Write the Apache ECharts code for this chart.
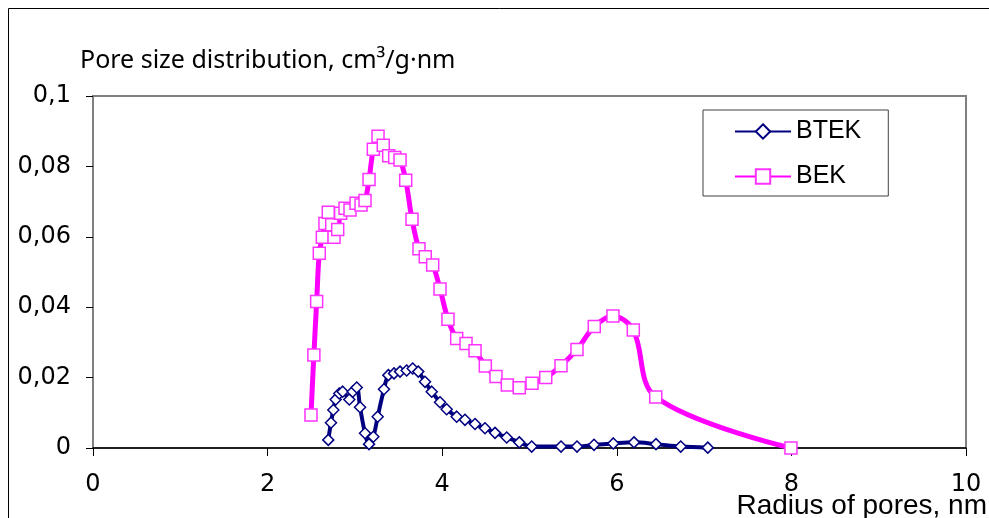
<!DOCTYPE html>
<html>
<head>
    <meta charset="utf-8">
    <title>Pore size distribution</title>
    <script src="https://cdn.jsdelivr.net/npm/echarts@6/dist/echarts.min.js"></script>
    <style>
        html, body { margin: 0; padding: 0; background: #fff; }
        #chartmain { width: 989px; height: 518px; }
    </style>
</head>
<body>
<div id="chartmain"></div>
<script type="text/javascript">
    // BTEK: radius (nm), distribution (cm3/g·nm)
    var btekX = [2.695, 2.726, 2.753, 2.780, 2.821, 2.860, 2.936, 2.975, 3.021, 3.059, 3.116, 3.162, 3.211, 3.261,
        3.333, 3.383, 3.448, 3.517, 3.593, 3.662, 3.726, 3.803, 3.880, 3.975, 4.051, 4.166, 4.261, 4.376,
        4.490, 4.605, 4.739, 4.883, 5.025, 5.361, 5.544, 5.739, 5.960, 6.197, 6.449, 6.732, 7.042];
    var btekY = [0.0023, 0.0072, 0.0108, 0.0138, 0.0155, 0.0160, 0.0138, 0.0160, 0.0172, 0.0116, 0.0042, 0.0011, 0.0032, 0.0089,
        0.0167, 0.0207, 0.0212, 0.0217, 0.0220, 0.0226, 0.0217, 0.0188, 0.0160, 0.0130, 0.0110, 0.0089, 0.0080, 0.0068,
        0.0056, 0.0043, 0.0030, 0.0016, 0.0004, 0.0004, 0.0004, 0.0009, 0.0013, 0.0016, 0.0011, 0.0004, 0.0001];

    // BEK
    var bekX = [2.497, 2.530, 2.562, 2.592, 2.627, 2.657, 2.695, 2.734, 2.761, 2.803, 2.837, 2.887, 2.944, 3.013,
        3.070, 3.116, 3.162, 3.211, 3.265, 3.325, 3.387, 3.456, 3.517, 3.582, 3.654, 3.734, 3.806, 3.891,
        3.975, 4.066, 4.166, 4.273, 4.376, 4.494, 4.616, 4.746, 4.883, 5.029, 5.186, 5.361, 5.544, 5.742,
        5.956, 6.189, 6.446, 7.995];
    var bekY = [0.0094, 0.0264, 0.0416, 0.0553, 0.0599, 0.0638, 0.0670, 0.0634, 0.0599, 0.0621, 0.0667, 0.0681, 0.0676, 0.0695,
        0.0690, 0.0703, 0.0763, 0.0849, 0.0886, 0.0860, 0.0830, 0.0825, 0.0818, 0.0761, 0.0650, 0.0566, 0.0543, 0.0520,
        0.0452, 0.0366, 0.0311, 0.0297, 0.0276, 0.0233, 0.0203, 0.0179, 0.0171, 0.0184, 0.0200, 0.0234, 0.0280, 0.0345,
        0.0375, 0.0335, 0.0145, 0.0000];

    var xTicks = {min: 0, max: 10, step: 2};
    var yTicks = {min: 0, max: 0.1, step: 0.02};

    function pairs(xs, ys) {
        var out = [];
        for (var i = 0; i < xs.length; i++) {
            out.push([xs[i], ys[i]]);
        }
        return out;
    }

    var option = {
        animation: false,
        backgroundColor: '#fff',
        textStyle: {fontFamily: 'Noto Sans'},
        grid: {
            left: 93, right: 23, top: 96, bottom: 70,
            show: true, borderColor: '#808080', borderWidth: 2
        },
        graphic: [
            {
                type: 'rect', silent: true, z: -1,
                shape: {x: 8.5, y: 8.5, width: 1100, height: 700},
                style: {fill: 'none', stroke: '#000', lineWidth: 1}
            },
            {
                type: 'text', left: 80, top: 48,
                style: {text: 'Pore size distribution, cm³/g·nm', font: '25px "Noto Sans"', fill: '#000'}
            },
            {
                type: 'text', right: 2, top: 492,
                style: {text: 'Radius of pores, nm', font: '28px "Liberation Sans"', fill: '#000'}
            }
        ],
        legend: {
            left: 703, top: 110,
            orient: 'vertical',
            backgroundColor: '#fff',
            borderColor: '#404040', borderWidth: 1,
            padding: [9, 27, 7, 31],
            itemWidth: 56, itemHeight: 18, itemGap: 20,
            textStyle: {fontFamily: 'Liberation Sans', fontSize: 25, color: '#000'},
            data: ['BTEK', 'BEK']
        },
        xAxis: {
            type: 'value',
            min: xTicks.min, max: xTicks.max, interval: xTicks.step,
            axisLine: {lineStyle: {color: '#000', width: 1.5}},
            axisTick: {show: true, inside: false, length: 8, lineStyle: {color: '#000'}},
            axisLabel: {fontSize: 24, color: '#000', margin: 25, fontFamily: 'DejaVu Sans'},
            splitLine: {show: false}
        },
        yAxis: {
            type: 'value',
            min: yTicks.min, max: yTicks.max, interval: yTicks.step,
            axisLine: {show: true, lineStyle: {color: '#808080', width: 1.5}},
            axisTick: {show: true, inside: false, length: 7, lineStyle: {color: '#000'}},
            axisLabel: {
                fontSize: 24, color: '#000', margin: 22, fontFamily: 'DejaVu Sans',
                formatter: function (v) {
                    return v === 0 ? '0' : String(+v.toFixed(2)).replace('.', ',');
                }
            },
            splitLine: {show: false}
        },
        series: [
            {
                name: 'BTEK',
                type: 'line',
                smooth: 0.35,
                data: pairs(btekX, btekY),
                symbol: 'diamond',
                symbolSize: 11,
                showAllSymbol: true,
                lineStyle: {color: '#000080', width: 4},
                itemStyle: {color: '#fff', borderColor: '#000080', borderWidth: 1.5}
            },
            {
                name: 'BEK',
                type: 'line',
                smooth: 0.35,
                data: pairs(bekX, bekY),
                symbol: 'rect',
                symbolSize: 12,
                showAllSymbol: true,
                lineStyle: {color: '#ff00ff', width: 5},
                itemStyle: {color: '#fff', borderColor: '#ff33ff', borderWidth: 1.5}
            }
        ]
    };

    var myChart = echarts.init(document.getElementById('chartmain'));
    myChart.setOption(option);
</script>
</body>
</html>
